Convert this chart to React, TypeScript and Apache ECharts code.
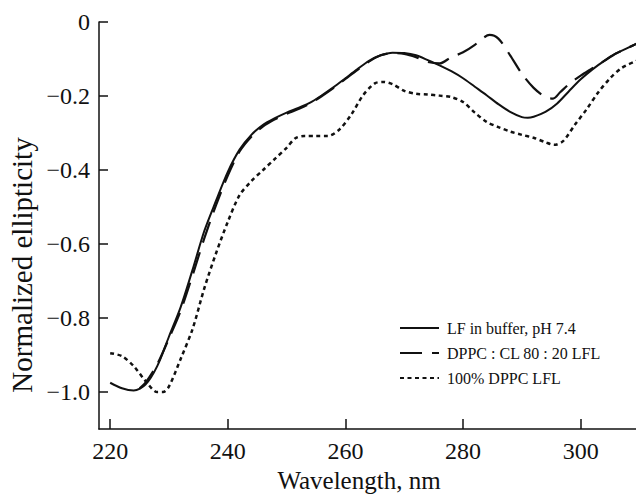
import React, { useEffect, useRef } from "react";
import * as echarts from "echarts";

const seriesNames = ["LF in buffer, pH 7.4", "DPPC : CL 80 : 20 LFL", "100% DPPC LFL"];

const bufferX = [220, 222, 224, 226, 228, 230, 232, 234, 236, 238, 240, 242, 244, 246, 248, 250, 252, 254, 256, 258, 260, 262, 264, 266, 268, 270, 272, 274, 276, 278, 280, 282, 284, 286, 288, 290, 291, 292, 294, 296, 298, 300, 302, 304, 306, 308, 310];
const bufferY = [-0.975, -0.99, -0.996, -0.98, -0.93, -0.85, -0.77, -0.67, -0.565, -0.483, -0.405, -0.345, -0.305, -0.278, -0.26, -0.245, -0.232, -0.218, -0.198, -0.176, -0.152, -0.128, -0.105, -0.09, -0.083, -0.084, -0.09, -0.103, -0.117, -0.133, -0.152, -0.175, -0.198, -0.222, -0.243, -0.257, -0.259, -0.256, -0.243, -0.22, -0.187, -0.155, -0.128, -0.105, -0.085, -0.07, -0.055];

const clX = [225, 226, 228, 230, 232, 234, 236, 238, 240, 242, 244, 246, 248, 250, 252, 254, 256, 258, 260, 262, 264, 266, 268, 270, 272, 274, 276, 278, 280, 282, 283, 284.5, 286, 288, 290, 292, 294, 295.3, 296.5, 298, 300, 302, 304, 306, 308, 310];
const clY = [-0.99, -0.975, -0.925, -0.855, -0.78, -0.685, -0.585, -0.495, -0.415, -0.35, -0.31, -0.282, -0.263, -0.248, -0.235, -0.22, -0.2, -0.178, -0.154, -0.13, -0.107, -0.09, -0.084, -0.086, -0.095, -0.108, -0.112, -0.095, -0.082, -0.062, -0.048, -0.035, -0.045, -0.09, -0.14, -0.178, -0.203, -0.207, -0.19, -0.168, -0.145, -0.125, -0.105, -0.085, -0.07, -0.055];

const dppcX = [220, 222, 224, 226, 228, 229, 230, 232, 234, 236, 238, 240, 242, 244, 246, 248, 250, 251.5, 253, 255, 257, 259, 261, 263, 265, 266.5, 268, 270, 272, 274, 276, 278, 280, 282, 284, 286, 288, 290, 292, 294, 295.5, 297, 299, 301, 303, 305, 307, 309.5];
const dppcY = [-0.895, -0.903, -0.93, -0.97, -1.0, -1.0, -0.985, -0.91, -0.83, -0.72, -0.625, -0.54, -0.468, -0.43, -0.4, -0.37, -0.34, -0.314, -0.308, -0.308, -0.308, -0.29, -0.25, -0.198, -0.166, -0.162, -0.168, -0.186, -0.194, -0.196, -0.199, -0.203, -0.216, -0.245, -0.27, -0.284, -0.296, -0.305, -0.313, -0.325, -0.332, -0.322, -0.278, -0.236, -0.19, -0.152, -0.124, -0.105];

const xTicks = [220, 240, 260, 280, 300];
const yTicks = [0, -0.2, -0.4, -0.6, -0.8, -1.0];

const FONT = "Liberation Serif";

function pairs(xs: number[], ys: number[]) {
  return xs.map((x, i) => [x, ys[i]]);
}

export default function App() {
  const ref = useRef<HTMLDivElement>(null);
  useEffect(() => {
    if (!ref.current) return;
    const chart = echarts.init(ref.current, undefined, { renderer: "svg" });
    const axisLineStyle = { color: "#111", width: 1.5 };
    chart.setOption({
      animation: false,
      backgroundColor: "#fff",
      grid: { left: 99, right: 0, top: 22, bottom: 69, containLabel: false, outerBoundsMode: "none" },
      xAxis: {
        type: "value",
        min: 218.1,
        max: 309.4,
        axisLine: { show: true, onZero: false, lineStyle: axisLineStyle },
        axisTick: { show: true, inside: true, length: 10, lineStyle: axisLineStyle, customValues: xTicks },
        axisLabel: {
          show: true,
          margin: 12,
          color: "#111",
          fontSize: 24,
          lineHeight: 20,
          fontFamily: FONT,
          customValues: xTicks,
        },
        splitLine: { show: false },
      },
      yAxis: {
        type: "value",
        min: -1.1,
        max: 0,
        axisLine: { show: true, onZero: false, lineStyle: axisLineStyle },
        axisTick: { show: true, inside: true, length: 9, lineStyle: axisLineStyle, customValues: yTicks },
        axisLabel: {
          show: true,
          margin: 9,
          color: "#111",
          fontSize: 24,
          fontFamily: FONT,
          customValues: yTicks,
          formatter: (v: number) => (Math.abs(v) < 1e-9 ? "0" : "\u2212" + Math.abs(v).toFixed(1)),
        },
        splitLine: { show: false },
      },
      legend: {
        orient: "vertical",
        left: 399,
        top: 320,
        padding: 0,
        itemWidth: 39,
        itemHeight: 16,
        itemGap: 9,
        data: [seriesNames[0], seriesNames[1], seriesNames[2]],
        itemStyle: { opacity: 0 },
        textStyle: { fontSize: 16, fontFamily: FONT, color: "#111", padding: [0, 0, 0, 3] },
      },
      graphic: [
        {
          type: "text",
          x: 22,
          y: 265,
          rotation: Math.PI / 2,
          style: { text: "Normalized ellipticity", fontSize: 29, fontFamily: FONT, fill: "#111", align: "center", verticalAlign: "middle" },
        },
        {
          type: "text",
          x: 359,
          y: 480,
          style: { text: "Wavelength, nm", fontSize: 25, lineHeight: 22, fontFamily: FONT, fill: "#111", align: "center", verticalAlign: "middle" },
        },
      ],
      series: [
        {
          name: seriesNames[2],
          type: "line",
          data: pairs(dppcX, dppcY),
          symbol: "none",
          smooth: 0.3,
          lineStyle: { color: "#111", width: 2.5, type: [4, 3.5] },
          itemStyle: { color: "#111" },
          z: 2,
        },
        {
          name: seriesNames[1],
          type: "line",
          data: pairs(clX, clY),
          symbol: "none",
          smooth: 0.3,
          lineStyle: { color: "#111", width: 2.2, type: [22, 10] },
          itemStyle: { color: "#111" },
          z: 3,
        },
        {
          name: seriesNames[0],
          type: "line",
          data: pairs(bufferX, bufferY),
          symbol: "none",
          smooth: 0.3,
          lineStyle: { color: "#111", width: 2 },
          itemStyle: { color: "#111" },
          z: 4,
        },
      ],
    });
    return () => chart.dispose();
  }, []);
  return <div ref={ref} style={{ position: "fixed", left: 0, top: 0, width: 636, height: 498, background: "#fff" }} />;
}
